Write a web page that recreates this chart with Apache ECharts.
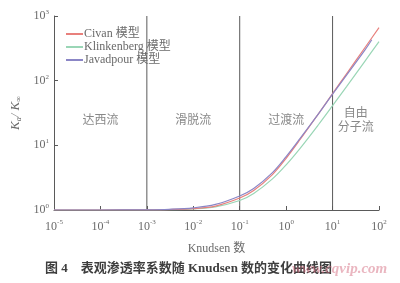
<!DOCTYPE html>
<html>
<head>
<meta charset="utf-8">
<script src="https://cdn.jsdelivr.net/npm/echarts@6/dist/echarts.min.js"></script>
<style>
  html, body { margin: 0; padding: 0; background: #fff; }
  #chart { width: 400px; height: 283px; }
</style>
</head>
<body>
<div id="chart"></div>
<script>
// Knudsen numbers sampled along each curve
const knudsen = [1e-5, 1e-4, 1e-3, 3e-3, 1e-2, 3e-2, 0.1, 0.2, 0.5, 1, 2, 5, 10, 20, 50, 100];
// Apparent permeability ratio Ka/K∞ for each model
const civan       = [1.0, 1.0, 1.005, 1.015, 1.05, 1.15, 1.53, 2.0, 3.5, 6.3, 12.3, 31, 63, 128, 326, 660];
const klinkenberg = [1.0, 1.0, 1.004, 1.012, 1.04, 1.12, 1.4, 1.8, 3.0, 5.0, 9.0, 21, 41, 81, 201, 401];
const javadpourKn = [1e-5, 1e-4, 1e-3, 3e-3, 1e-2, 3e-2, 0.1, 0.2, 0.5, 1, 2, 5, 10, 20, 50, 70];
const javadpour   = [1.0, 1.0, 1.008, 1.025, 1.08, 1.22, 1.65, 2.15, 3.75, 6.7, 12.8, 31, 62, 122, 300, 430];

// Flow-regime boundaries and regime names (labels sit at Ka/K∞ = 25)
const boundaries = [1e-3, 1e-1, 10];
const regimeNames = ['达西流', '滑脱流', '过渡流', '自由\n分子流'];
const regimeCenters = [1e-4, 1e-2, 1, 31.6];
const regimeLabelLevel = 25;

// Axis ticks (powers of ten)
const xExponents = ['-5', '-4', '-3', '-2', '-1', '0', '1', '2'];
const yExponents = ['0', '1', '2', '3'];

const seriesNames = ['Civan 模型', 'Klinkenberg 模型', 'Javadpour 模型'];
const colors = ['#e8807c', '#9ad6b6', '#8b86c6'];

const serif = '"Liberation Serif", "Noto Sans CJK SC", serif';
const cjk = '"Noto Sans CJK SC", "Liberation Serif", sans-serif';

function pair(xs, ys) { return xs.map((x, i) => [x, ys[i]]); }
function expOf(v) { return String(Math.round(Math.log10(v))); }

const chart = echarts.init(document.getElementById('chart'), null, { renderer: 'canvas' });

const series = [
  { name: seriesNames[0], data: pair(knudsen, civan), color: colors[0], z: 4 },
  { name: seriesNames[1], data: pair(knudsen, klinkenberg), color: colors[1], z: 3 },
  { name: seriesNames[2], data: pair(javadpourKn, javadpour), color: colors[2], z: 5 }
].map(s => ({
  type: 'line',
  name: s.name,
  data: s.data,
  smooth: 0.35,
  showSymbol: false,
  z: s.z,
  lineStyle: { color: s.color, width: 1.2 },
  itemStyle: { color: s.color }
}));

// vertical lines separating the flow regimes, spanning the full y range
boundaries.forEach((b, i) => {
  series.push({
    type: 'line',
    name: 'boundary' + i,
    silent: true,
    showSymbol: false,
    z: 2,
    data: [[b, 1], [b, 1000]],
    lineStyle: { color: '#5a5a5a', width: 1 }
  });
});

// regime names
series.push({
  type: 'scatter',
  name: 'regimes',
  silent: true,
  symbolSize: 0,
  data: regimeCenters.map((c, i) => ({ value: [c, regimeLabelLevel], name: regimeNames[i] })),
  label: {
    show: true,
    position: 'inside',
    formatter: p => p.name,
    color: '#6a6a6a',
    fontFamily: cjk,
    fontSize: 12,
    lineHeight: 14
  }
});

chart.setOption({
  animation: false,
  backgroundColor: '#ffffff',
  grid: { left: 54, right: 21, top: 16, bottom: 73 },
  legend: {
    data: seriesNames,
    orient: 'vertical',
    left: 61,
    top: 23,
    itemWidth: 17,
    itemHeight: 2,
    itemGap: 1,
    icon: 'rect',
    textStyle: { color: '#6a6a6a', fontFamily: serif, fontSize: 12, padding: [0, 0, 0, -4] }
  },
  xAxis: {
    type: 'log',
    logBase: 10,
    min: 1e-5,
    max: 100,
    name: 'Knudsen 数',
    nameLocation: 'middle',
    nameGap: 33,
    nameTextStyle: { color: '#6a6a6a', fontFamily: serif, fontSize: 12 },
    axisLine: { show: true, lineStyle: { color: '#5a5a5a', width: 1 } },
    axisTick: { show: true, inside: true, length: 4, lineStyle: { color: '#5a5a5a' } },
    minorTick: { show: false },
    splitLine: { show: false },
    axisLabel: {
      margin: 9,
      formatter: v => '{b|10}{s|' + xExponents[xExponents.indexOf(expOf(v))] + '}',
      rich: {
        b: { fontFamily: serif, fontSize: 12, color: '#6a6a6a' },
        s: { fontFamily: serif, fontSize: 7, color: '#6a6a6a', padding: [0, 0, 8, 0] }
      }
    }
  },
  yAxis: {
    type: 'log',
    logBase: 10,
    min: 1,
    max: 1000,
    name: '{k|K}{sub|a}{k|/ K}{sub|∞}',
    nameLocation: 'middle',
    nameGap: 30,
    nameRotate: 90,
    nameTextStyle: {
      rich: {
        k: { fontFamily: serif, fontStyle: 'italic', fontSize: 13, color: '#6a6a6a' },
        sub: { fontFamily: serif, fontStyle: 'italic', fontSize: 8, color: '#6a6a6a', padding: [6, 0, 0, 0] }
      }
    },
    axisLine: { show: true, lineStyle: { color: '#5a5a5a', width: 1 } },
    axisTick: { show: true, inside: true, length: 4, lineStyle: { color: '#5a5a5a' } },
    minorTick: { show: false },
    splitLine: { show: false },
    axisLabel: {
      margin: 5,
      formatter: v => '{b|10}{s|' + yExponents[yExponents.indexOf(expOf(v))] + '}',
      rich: {
        b: { fontFamily: serif, fontSize: 12, color: '#6a6a6a' },
        s: { fontFamily: serif, fontSize: 7, color: '#6a6a6a', padding: [0, 0, 8, 0] }
      }
    }
  },
  series: series,
  graphic: [
    {
      type: 'text',
      left: 45,
      top: 262,
      style: {
        text: '图 4    表观渗透率系数随 Knudsen 数的变化曲线图',
        fill: '#3e3e3e',
        font: 'bold 13px "Liberation Serif", "Noto Sans CJK SC", serif'
      }
    },
    {
      type: 'text',
      left: 292,
      top: 262,
      z: 10,
      style: {
        text: 'www.cqvip.com',
        fill: 'rgba(214, 110, 130, 0.5)',
        font: 'italic bold 15px "Liberation Serif", serif'
      }
    }
  ]
});
</script>
</body>
</html>
